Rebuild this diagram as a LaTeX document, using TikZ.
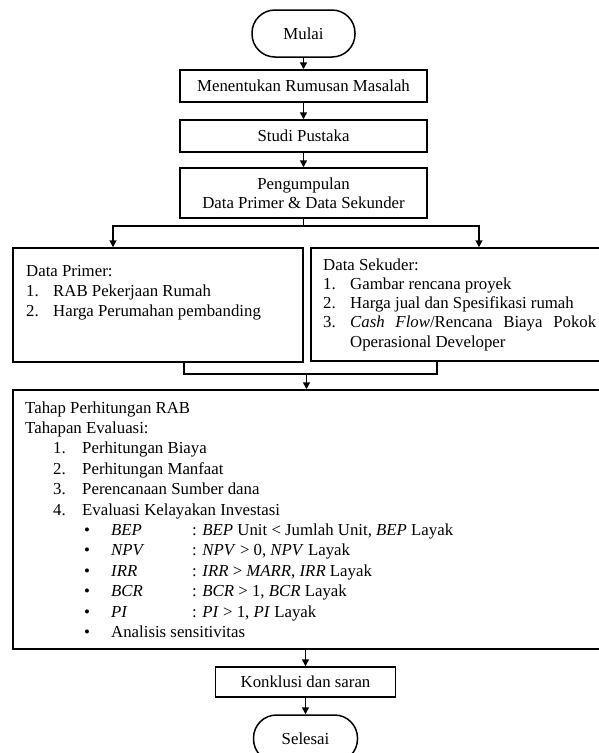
\documentclass[tikz,border=0pt]{standalone}
\usepackage{fontspec}
\setmainfont{Liberation Serif}
\usetikzlibrary{arrows.meta, positioning}

\tikzset{
  kotak/.style={draw, line width=1.5pt, inner sep=0pt, font=\fontsize{16.8}{18.5}\selectfont},
  terminal/.style={kotak, rounded corners=23pt, minimum width=103pt, minimum height=47pt},
  panah/.style={line width=1.5pt, -{Triangle[width=7pt,length=7pt]}},
  garis/.style={line width=1.5pt},
  teks/.style={anchor=base west, inner sep=0pt, font=\fontsize{16.8}{19.4}\selectfont},
}

\begin{document}
\begin{tikzpicture}[x=1pt, y=-1pt]
  \useasboundingbox (0,0) rectangle (598,753);
  % alur utama
  \node[terminal] (mulai) at (303.5,33.5) {Mulai};
  \node[kotak, minimum width=247pt, minimum height=32pt] (rumusan) at (303.5,86) {Menentukan Rumusan Masalah};
  \node[kotak, minimum width=247pt, minimum height=32pt] (pustaka) at (303.5,136) {Studi Pustaka};
  \node[kotak, minimum width=247pt, minimum height=50pt, align=center] (kumpul) at (303.5,193) {Pengumpulan\\Data Primer \& Data Sekunder};
  \node[kotak, minimum width=290pt, minimum height=114pt] (primer) at (158,305) {};
  \node[kotak, minimum width=289pt, minimum height=113pt] (sekunder) at (455.5,304.5) {};
  \node[kotak, minimum width=587pt, minimum height=259pt] (hitung) at (306.5,519.5) {};
  \node[kotak, minimum width=180pt, minimum height=30pt] (konklusi) at (305.5,682) {Konklusi dan saran};
  \node[terminal, minimum width=104pt] (selesai) at (305.5,738.5) {Selesai};

  % panah
  \draw[panah] (mulai) -- (rumusan);
  \draw[panah] (rumusan) -- (pustaka);
  \draw[panah] (pustaka) -- (kumpul);
  \coordinate (cabangkiri) at (113,226);
  \coordinate (cabangkanan) at (479,226);
  \draw[panah] (kumpul.south) |- (cabangkiri) -- (cabangkiri |- primer.north);
  \draw[panah] (kumpul.south) |- (cabangkanan) -- (cabangkanan |- sekunder.north);
  \coordinate (gabungkiri) at (184,374);
  \coordinate (gabungkanan) at (437,374);
  \draw[garis] (gabungkiri |- primer.south) -- (gabungkiri) -- (gabungkanan) -- (gabungkanan |- sekunder.south);
  \draw[panah] (gabungkiri -| hitung.north) -- (hitung.north);
  \draw[panah] (hitung.south -| konklusi.north) -- (konklusi.north);
  \draw[panah] (konklusi) -- (selesai);

  % data primer
  \node[teks] (primerjudul) at (26,276) {Data Primer:};
  \foreach \no/\isi in {1/RAB Pekerjaan Rumah, 2/Harga Perumahan pembanding}{
    \node[teks] (primerno\no) at (26,{276+20*\no}) {\no.};
    \node[teks] (primerisi\no) at (53,{276+20*\no}) {\isi};
  }

  % data sekunder
  \node[teks] (sekunderjudul) at (323,270) {Data Sekuder:};
  \foreach \no/\isi in {1/Gambar rencana proyek, 2/Harga jual dan Spesifikasi rumah,
      3/{\makebox[246pt][s]{\textit{Cash Flow}/Rencana Biaya Pokok}}}{
    \node[teks] (sekunderno\no) at (323,{270+19.3*\no}) {\no.};
    \node[teks] (sekunderisi\no) at (350,{270+19.3*\no}) {\isi};
  }
  \node[teks] (sekunderlanjut) at (350,347) {Operasional Developer};

  % tahap evaluasi
  \node[teks] (tahap) at (25,413) {Tahap Perhitungan RAB};
  \node[teks] (evaluasi) at (25,433.4) {Tahapan Evaluasi:};
  \foreach \no/\isi in {1/Perhitungan Biaya, 2/Perhitungan Manfaat, 3/Perencanaan Sumber dana, 4/Evaluasi Kelayakan Investasi}{
    \node[teks] (evalno\no) at (53,{413+20.4*(\no+1)}) {\no.};
    \node[teks] (evalisi\no) at (82,{413+20.4*(\no+1)}) {\isi};
  }
  \foreach \k/\syarat [count=\i from 6] in {
      BEP/{\textit{BEP} Unit < Jumlah Unit, \textit{BEP} Layak},
      NPV/{\textit{NPV} > 0, \textit{NPV} Layak},
      IRR/{\textit{IRR} > \textit{MARR}, \textit{IRR} Layak},
      BCR/{\textit{BCR} > 1, \textit{BCR} Layak},
      PI/{\textit{PI} > 1, \textit{PI} Layak}}{
    \node[teks] (titik\k) at (84,{413+20.4*\i}) {\textbullet};
    \node[teks] (nama\k) at (111,{413+20.4*\i}) {\textit{\k}};
    \node[teks] (syarat\k) at (192,{413+20.4*\i}) {: \syarat};
  }
  \node[teks] (titikanalisis) at (84,{413+20.4*11}) {\textbullet};
  \node[teks] (analisis) at (111,{413+20.4*11}) {Analisis sensitivitas};
\end{tikzpicture}
\end{document}
